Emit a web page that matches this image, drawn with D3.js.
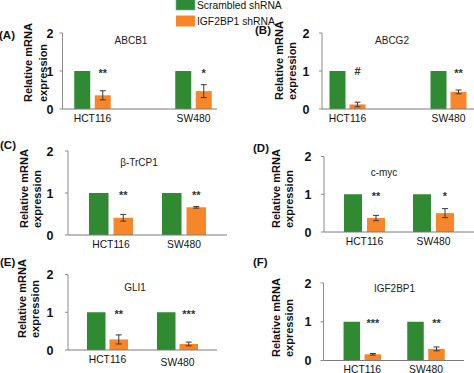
<!DOCTYPE html>
<html>
<head>
<meta charset="utf-8">
<script src="https://cdn.jsdelivr.net/npm/d3@7"></script>
<style>
body { margin: 0; background: #fff; }
svg { display: block; font-family: "Liberation Sans", Arial, sans-serif; }
</style>
</head>
<body>
<div id="chart"></div>
<script>
var width = 474,
    height = 373;

// data
var panelTags = ["(A)", "(B)", "(C)", "(D)", "(E)", "(F)"];
var genes = ["ABCB1", "ABCG2", "β-TrCP1", "c-myc", "GLI1", "IGF2BP1"];
var cells = ["HCT116", "SW480"];
var series = ["Scrambled shRNA", "IGF2BP1 shRNA"];
var scrambled = [[1, 1], [1, 1], [1, 1], [1, 1], [1, 1], [1, 1]];
var knockdown = [[0.36, 0.47], [0.12, 0.45], [0.41, 0.66], [0.37, 0.50], [0.28, 0.16], [0.16, 0.30]];
var knockdownErr = [[0.12, 0.17], [0.06, 0.05], [0.08, 0.02], [0.07, 0.12], [0.12, 0.05], [0.02, 0.05]];
var marks = [["**", "*"], ["#", "**"], ["**", "**"], ["**", "*"], ["**", "***"], ["***", "**"]];
var yTicks = [0, 1, 2];

var colors = ["#2f8a32", "#f7852a"];

// where each panel sits on the page
var layout = [
  {ax: 62.5, y0: 109, y2: 33, xEnd: 217, c0: 92.5, c1: 193.5, bw: 16, gap: 4.5, tickDx: 12.5, tx: 131, ty: 40, lx: -1, ly: 35, yt: [28, 43], ytBottom: 102},
  {ax: 322, y0: 109, y2: 33, xEnd: 474, c0: 347.5, c1: 448.5, bw: 16, gap: 4, tickDx: 16, tx: 392, ty: 40, lx: 255, ly: 30, yt: [279, 292], ytBottom: 100},
  {ax: 68, y0: 235, y2: 151, xEnd: 227, c0: 111, c1: 184, bw: 19.5, gap: 5, tickDx: 18, tx: 139, ty: 162, lx: 0, ly: 145, yt: [24, 37], ytBottom: 228},
  {ax: 324, y0: 232, y2: 156.5, xEnd: 474, c0: 364.5, c1: 433.5, bw: 18, gap: 5, tickDx: 16, tx: 384, ty: 172, lx: 253, ly: 148, yt: [276, 289], ytBottom: 228},
  {ax: 68, y0: 350, y2: 274.5, xEnd: 217, c0: 107.5, c1: 177.5, bw: 18.5, gap: 4, tickDx: 18, tx: 135, ty: 287, lx: 0, ly: 262, yt: [22, 35], ytBottom: 338},
  {ax: 323.5, y0: 360.5, y2: 283, xEnd: 464, c0: 362.3, c1: 426, bw: 16.5, gap: 4.5, tickDx: 15.5, tx: 394.5, ty: 288, lx: 253, ly: 262, yt: [276, 289], ytBottom: 357}
];

var svg = d3.select("#chart").append("svg")
  .attr("width", width)
  .attr("height", height);

// legend
var legend = svg.append("g");
series.forEach(function(s, i) {
  legend.append("rect")
    .attr("x", 176)
    .attr("y", -1 + i * 16.5)
    .attr("width", 19)
    .attr("height", 11)
    .style("fill", colors[i])
    .style("stroke", i === 0 ? "#58b7c9" : "none")
    .style("stroke-width", 0.6);
  legend.append("text")
    .attr("x", 197)
    .attr("y", 8.7 + i * 15.8)
    .style("font-size", "10.3px")
    .style("fill", "#111")
    .text(s);
});

genes.forEach(function(gene, p) {
  var L = layout[p];
  var g = svg.append("g");

  var y = d3.scaleLinear().domain([0, 2]).range([L.y0, L.y2]);
  var step = L.c1 - L.c0;
  var x = d3.scaleBand().domain(cells)
    .range([L.c0 - step / 2, L.c1 + step / 2]);
  var inner = d3.scaleBand().domain(series)
    .range([-(L.bw + L.gap / 2), L.bw + L.gap / 2])
    .paddingInner(L.gap / (L.bw + L.gap));

  var rows = cells.map(function(c, i) {
    return {cell: c, vals: [scrambled[p][i], knockdown[p][i]], err: knockdownErr[p][i], mark: marks[p][i]};
  });

  // y axis
  g.append("line")
    .attr("x1", L.ax).attr("x2", L.ax)
    .attr("y1", y(2)).attr("y2", y(0))
    .style("stroke", "#8c8c8c").style("stroke-width", 1);
  g.selectAll(".tick").data(yTicks).enter().append("line")
    .attr("x1", L.ax - 3).attr("x2", L.ax)
    .attr("y1", function(d) { return y(d); })
    .attr("y2", function(d) { return y(d); })
    .style("stroke", "#8c8c8c");
  g.selectAll(".ticklabel").data(yTicks).enter().append("text")
    .attr("x", L.ax - L.tickDx)
    .attr("y", function(d) { return y(d); })
    .attr("dy", "0.36em")
    .style("text-anchor", "middle")
    .style("font-size", "12.5px")
    .style("font-weight", "bold")
    .style("fill", "#111")
    .text(function(d) { return d; });

  // bars
  var grp = g.selectAll(".grp").data(rows).enter().append("g")
    .attr("transform", function(d) { return "translate(" + (x(d.cell) + x.bandwidth() / 2) + ",0)"; });

  grp.selectAll("rect").data(function(d) { return d.vals; }).enter().append("rect")
    .attr("x", function(d, i) { return inner(series[i]); })
    .attr("y", function(d) { return y(d); })
    .attr("width", inner.bandwidth())
    .attr("height", function(d) { return y(0) - y(d); })
    .style("fill", function(d, i) { return colors[i]; });

  // error bars on the knockdown bar
  var ex = inner(series[1]) + inner.bandwidth() / 2;
  grp.append("line")
    .attr("x1", ex).attr("x2", ex)
    .attr("y1", function(d) { return y(d.vals[1] + d.err); })
    .attr("y2", function(d) { return y(d.vals[1] - d.err); })
    .style("stroke", "#3a3a3a").style("stroke-width", 1);
  [1, -1].forEach(function(sgn) {
    grp.append("line")
      .attr("x1", ex - 3).attr("x2", ex + 3)
      .attr("y1", function(d) { return y(d.vals[1] + sgn * d.err); })
      .attr("y2", function(d) { return y(d.vals[1] + sgn * d.err); })
      .style("stroke", "#3a3a3a").style("stroke-width", 1);
  });

  // significance marks
  grp.append("text")
    .attr("x", ex)
    .attr("y", function(d) { return y(1) + (d.mark === "#" ? 4 : 5.5); })
    .style("text-anchor", "middle")
    .style("font-size", "11px")
    .style("font-weight", "bold")
    .style("fill", "#333")
    .text(function(d) { return d.mark; });

  // x axis
  g.append("line")
    .attr("x1", L.ax).attr("x2", L.xEnd)
    .attr("y1", y(0)).attr("y2", y(0))
    .style("stroke", "#7a7a7a").style("stroke-width", 1);

  grp.append("text")
    .attr("x", 0)
    .attr("y", function(d, i) { return y(0) + 12.7 + (p === 4 && i === 1 ? 3.5 : 0); })
    .style("text-anchor", "middle")
    .style("font-size", "10.3px")
    .style("fill", "#111")
    .text(function(d) { return d.cell; });

  // gene title
  g.append("text")
    .attr("x", L.tx)
    .attr("y", L.ty + 3.6)
    .style("text-anchor", "middle")
    .style("font-size", "10px")
    .style("fill", "#222")
    .text(gene);

  // panel tag
  g.append("text")
    .attr("x", L.lx)
    .attr("y", L.ly + 4.2)
    .style("font-size", "11.5px")
    .style("font-weight", "bold")
    .style("fill", "#111")
    .text(panelTags[p]);

  // y axis title, two lines, bottom aligned
  ["Relative mRNA", "expression"].forEach(function(line, k) {
    g.append("text")
      .attr("transform", "translate(" + (L.yt[k] + 4) + "," + L.ytBottom + ") rotate(-90)")
      .style("text-anchor", "start")
      .style("font-size", "11px")
      .style("font-weight", "bold")
      .style("fill", "#111")
      .text(line);
  });
});
</script>
</body>
</html>
